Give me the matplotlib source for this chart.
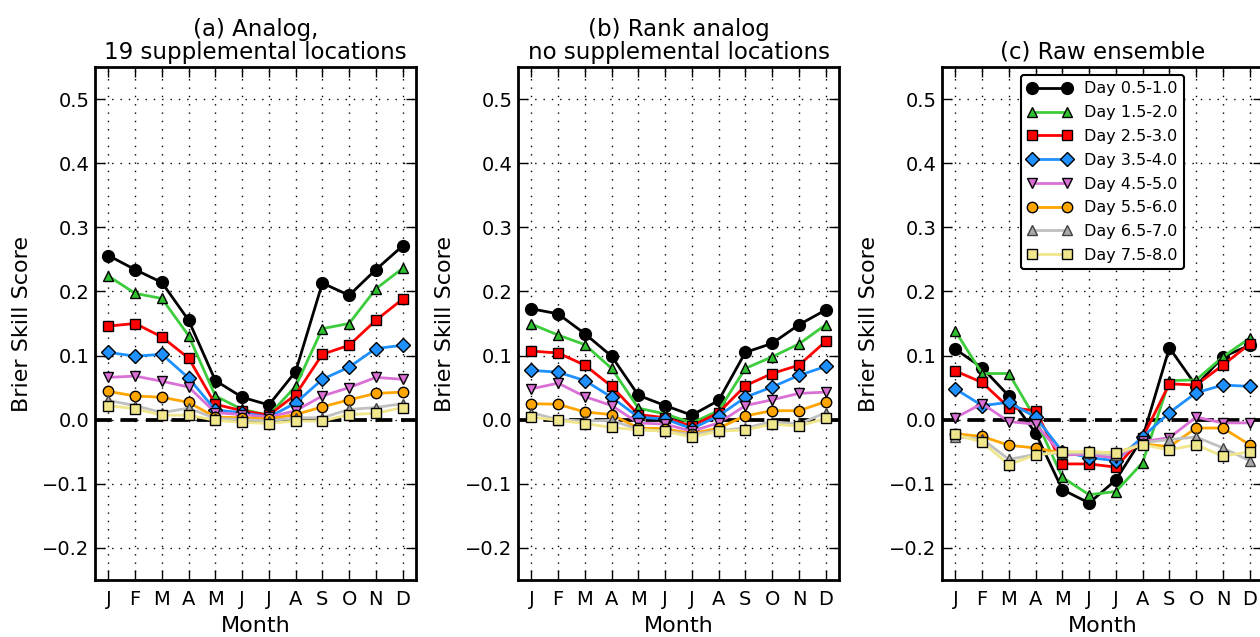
import matplotlib
matplotlib.use("Agg")
import matplotlib.pyplot as plt
import numpy as np

months = ["J", "F", "M", "A", "M", "J", "J", "A", "S", "O", "N", "D"]
labels = ["Day 0.5-1.0", "Day 1.5-2.0", "Day 2.5-3.0", "Day 3.5-4.0",
          "Day 4.5-5.0", "Day 5.5-6.0", "Day 6.5-7.0", "Day 7.5-8.0"]
titles = ["(a) Analog,\n19 supplemental locations",
          "(b) Rank analog\nno supplemental locations",
          "(c) Raw ensemble"]

# Panel (a): Analog, 19 supplemental locations
a_d1 = [0.256, 0.234, 0.214, 0.155, 0.061, 0.035, 0.023, 0.075, 0.213, 0.194, 0.234, 0.271]
a_d2 = [0.224, 0.197, 0.189, 0.131, 0.037, 0.016, 0.007, 0.052, 0.142, 0.150, 0.204, 0.236]
a_d3 = [0.146, 0.150, 0.129, 0.096, 0.024, 0.014, 0.007, 0.039, 0.102, 0.116, 0.155, 0.188]
a_d4 = [0.105, 0.099, 0.102, 0.065, 0.015, 0.011, 0.004, 0.026, 0.063, 0.082, 0.111, 0.116]
a_d5 = [0.066, 0.068, 0.060, 0.051, 0.011, 0.008, 0.004, 0.014, 0.037, 0.050, 0.066, 0.063]
a_d6 = [0.044, 0.037, 0.035, 0.027, 0.004, 0.003, 0.001, 0.008, 0.020, 0.031, 0.041, 0.043]
a_d7 = [0.030, 0.022, 0.011, 0.018, 0.002, 0.000, -0.002, 0.003, 0.003, 0.016, 0.019, 0.025]
a_d8 = [0.022, 0.017, 0.007, 0.007, -0.001, -0.004, -0.006, -0.002, -0.002, 0.008, 0.010, 0.019]

# Panel (b): Rank analog, no supplemental locations
b_d1 = [0.173, 0.165, 0.134, 0.099, 0.038, 0.022, 0.007, 0.030, 0.105, 0.119, 0.148, 0.171]
b_d2 = [0.149, 0.132, 0.117, 0.080, 0.018, 0.009, -0.005, 0.014, 0.080, 0.098, 0.118, 0.148]
b_d3 = [0.107, 0.104, 0.085, 0.052, 0.008, 0.003, -0.010, 0.011, 0.053, 0.072, 0.085, 0.122]
b_d4 = [0.077, 0.074, 0.061, 0.035, 0.004, 0.001, -0.014, 0.006, 0.035, 0.051, 0.069, 0.083]
b_d5 = [0.048, 0.057, 0.036, 0.022, -0.005, -0.007, -0.018, -0.005, 0.022, 0.031, 0.041, 0.043]
b_d6 = [0.025, 0.024, 0.012, 0.008, -0.013, -0.014, -0.022, -0.013, 0.006, 0.014, 0.014, 0.028]
b_d7 = [0.011, 0.000, -0.002, -0.001, -0.015, -0.018, -0.023, -0.017, -0.013, -0.003, -0.007, 0.011]
b_d8 = [0.004, -0.001, -0.006, -0.012, -0.016, -0.018, -0.027, -0.018, -0.016, -0.007, -0.010, 0.002]

# Panel (c): Raw ensemble
c_d1 = [0.110, 0.081, 0.037, -0.021, -0.109, -0.130, -0.094, -0.028, 0.112, 0.053, 0.098, 0.116]
c_d2 = [0.138, 0.072, 0.072, 0.001, -0.090, -0.117, -0.112, -0.067, 0.061, 0.062, 0.098, 0.127]
c_d3 = [0.076, 0.058, 0.019, 0.014, -0.069, -0.069, -0.074, -0.028, 0.056, 0.054, 0.085, 0.118]
c_d4 = [0.048, 0.022, 0.027, 0.004, -0.050, -0.059, -0.064, -0.027, 0.011, 0.042, 0.054, 0.052]
c_d5 = [0.003, 0.025, -0.003, -0.007, -0.055, -0.054, -0.060, -0.034, -0.028, 0.004, -0.005, -0.005]
c_d6 = [-0.022, -0.026, -0.040, -0.044, -0.052, -0.050, -0.052, -0.038, -0.042, -0.013, -0.013, -0.039]
c_d7 = [-0.027, -0.030, -0.062, -0.054, -0.052, -0.052, -0.055, -0.036, -0.031, -0.027, -0.044, -0.064]
c_d8 = [-0.023, -0.035, -0.070, -0.055, -0.050, -0.050, -0.052, -0.039, -0.047, -0.039, -0.057, -0.050]

panels = [
    [a_d1, a_d2, a_d3, a_d4, a_d5, a_d6, a_d7, a_d8],
    [b_d1, b_d2, b_d3, b_d4, b_d5, b_d6, b_d7, b_d8],
    [c_d1, c_d2, c_d3, c_d4, c_d5, c_d6, c_d7, c_d8],
]

styles = [
    dict(color="black", marker="o", mfc="black", mec="black"),
    dict(color="#3ccc3c", marker="^", mfc="#2fbf2f", mec="black"),
    dict(color="red", marker="s", mfc="red", mec="black"),
    dict(color="dodgerblue", marker="D", mfc="dodgerblue", mec="black"),
    dict(color="orchid", marker="v", mfc="orchid", mec="black"),
    dict(color="orange", marker="o", mfc="orange", mec="black"),
    dict(color="silver", marker="^", mfc="darkgray", mec="#404040"),
    dict(color="#f0e68c", marker="s", mfc="#f0e68c", mec="black"),
]
msizes = [8.5, 7.5, 7.5, 7.5, 7.5, 7.5, 7.5, 7.5]

fig = plt.figure(figsize=(12.6, 6.37), dpi=100)
W, H = 1260.0, 637.0
lefts = [95, 518, 942]
axw, bottom, top = 321, 580, 67
x = np.arange(12)
yt = np.arange(-0.2, 0.51, 0.1)

for i, (left, series) in enumerate(zip(lefts, panels)):
    ax = fig.add_axes([left / W, 1 - bottom / H, axw / W, (bottom - top) / H])
    ax.axhline(0.0, color="black", ls="--", lw=2.7, dashes=(4.5, 2.3), zorder=1)
    for s, (vals, st, ms) in enumerate(zip(series, styles, msizes)):
        ax.plot(x, vals, lw=2, ms=ms, mew=1.0, label=labels[s], zorder=2 + s, **st)
    ax.set_xlim(-0.5, 11.5)
    ax.set_ylim(-0.25, 0.55)
    ax.set_xticks(x)
    ax.set_xticklabels(months)
    ax.set_yticks(yt)
    ax.set_yticklabels([f"{v:.1f}".replace("-", "\u2212") for v in yt])
    ax.grid(True, color="black", ls=(0, (1, 5)), lw=1.0)
    ax.tick_params(direction="in", top=True, right=True, length=7, width=1,
                   labelsize=14)
    ax.tick_params(axis="y", pad=4)
    ax.tick_params(axis="x", pad=7)
    for sp in ax.spines.values():
        sp.set_linewidth(2)
    ax.set_xlabel("Month", fontsize=16, labelpad=5)
    ax.set_ylabel("Brier Skill Score", fontsize=16, labelpad=7)
    ax.set_title(titles[i], fontsize=16.5, pad=6, linespacing=1.0)
    if i == 2:
        leg = ax.legend(loc="upper center", numpoints=2, fontsize=11.5,
                        handlelength=2.8, fancybox=True, framealpha=1,
                        borderaxespad=0.5, labelspacing=0.55, handletextpad=0.8)
        leg.get_frame().set_edgecolor("black")
        leg.get_frame().set_linewidth(1.5)

fig.savefig("out.png", dpi=100)
